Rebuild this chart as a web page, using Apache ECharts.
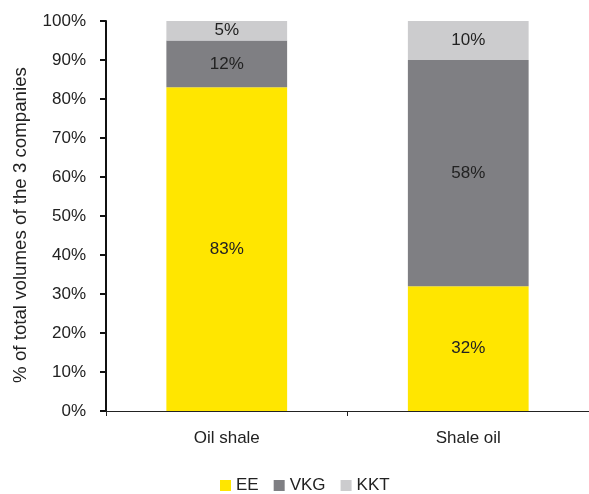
<!DOCTYPE html>
<html>
<head>
<meta charset="utf-8">
<script src="https://cdn.jsdelivr.net/npm/echarts@6/dist/echarts.min.js"></script>
<style>
  html, body { margin: 0; padding: 0; background: #fff; }
  #chart { width: 589px; height: 494px; }
</style>
</head>
<body>
<div id="chart"></div>
<script>
var categories = ['Oil shale', 'Shale oil'];
var seriesNames = ['EE', 'VKG', 'KKT'];
var eeValues = [83, 32];
var vkgValues = [12, 58];
var kktValues = [5, 10];
var colors = ['#FFE600', '#7F7F83', '#CCCCCE'];

var font = '"Liberation Sans", Arial, sans-serif';

function makeSeries(name, data, color) {
  return {
    name: name,
    type: 'bar',
    stack: 'total',
    barWidth: '50%',
    data: data,
    itemStyle: { color: color },
    label: {
      show: true,
      position: 'inside',
      formatter: '{c}%',
      color: '#222',
      fontSize: 17,
      fontFamily: font
    }
  };
}

var chart = echarts.init(document.getElementById('chart'));
chart.setOption({
  animation: false,
  textStyle: { fontFamily: font },
  grid: { left: 106, top: 21, width: 488, height: 390 },
  legend: {
    top: 477,
    left: 220,
    padding: 0,
    itemWidth: 11,
    itemHeight: 11,
    itemGap: 15,
    icon: 'rect',
    textStyle: { fontSize: 17, color: '#222', fontFamily: font },
    data: seriesNames
  },
  xAxis: {
    type: 'category',
    data: categories,
    axisLine: { lineStyle: { color: '#222', width: 1 } },
    axisTick: { show: true, alignWithLabel: false, length: 5, lineStyle: { color: '#222' } },
    axisLabel: { color: '#222', fontSize: 17, margin: 19 }
  },
  yAxis: {
    type: 'value',
    min: 0,
    max: 100,
    interval: 10,
    name: '% of total volumes of the 3 companies',
    nameLocation: 'middle',
    nameGap: 76,
    nameTextStyle: { fontSize: 18.7, color: '#222', padding: [0, 18, 0, 0] },
    splitLine: { show: false },
    axisLine: { show: true, lineStyle: { color: '#111', width: 2 } },
    axisTick: { show: true, length: 6, lineStyle: { color: '#111', width: 2 } },
    axisLabel: { formatter: '{value}%', color: '#222', fontSize: 17, margin: 20 }
  },
  series: [
    makeSeries(seriesNames[0], eeValues, colors[0]),
    makeSeries(seriesNames[1], vkgValues, colors[1]),
    makeSeries(seriesNames[2], kktValues, colors[2])
  ]
});
</script>
</body>
</html>
